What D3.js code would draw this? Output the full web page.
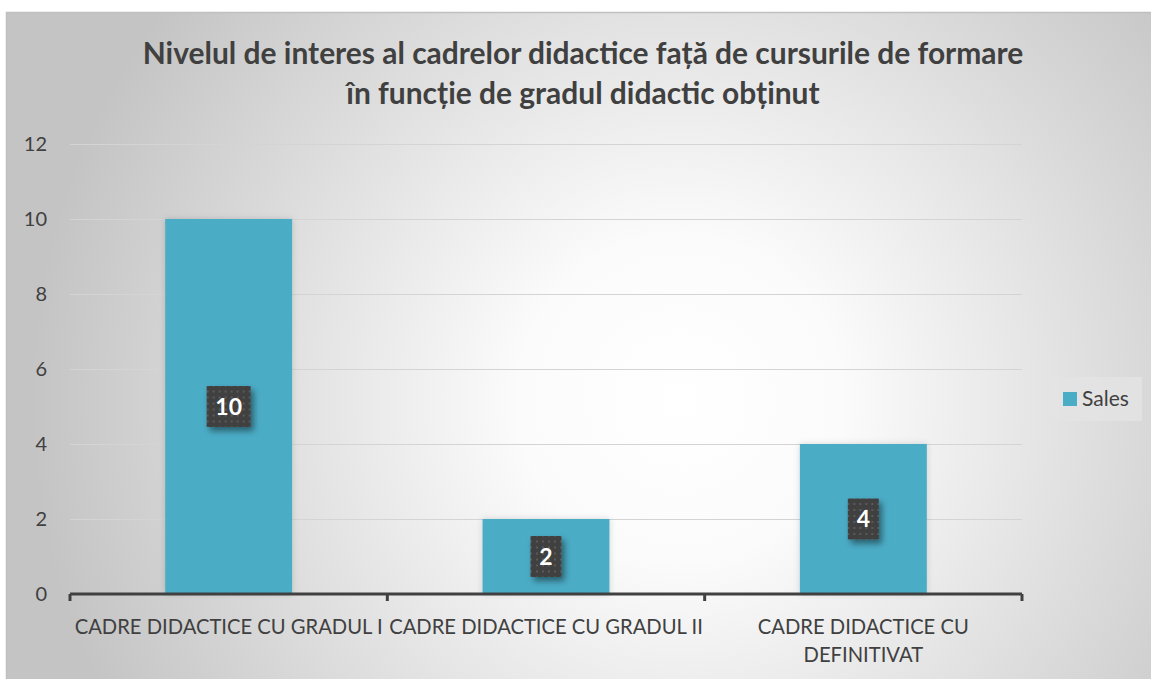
<!DOCTYPE html>
<html>
<head>
<meta charset="utf-8">
<script src="https://cdn.jsdelivr.net/npm/d3@7"></script>
<style>
  body { margin: 0; background: #fff; }
  svg { display: block; font-family: Lato, "Open Sans", sans-serif; }
</style>
</head>
<body>
<script>
var width = 1151,
  height = 679;

var categories = ["CADRE DIDACTICE CU GRADUL I", "CADRE DIDACTICE CU GRADUL II", "CADRE DIDACTICE CU DEFINITIVAT"];
var values = [10, 2, 4];
var yTicks = [0, 2, 4, 6, 8, 10, 12];
var seriesName = "Sales";
var titleLines = ["Nivelul de interes al cadrelor didactice față de cursurile de formare",
  "în funcție de gradul didactic obținut"];

var margin = {left: 70, right: 129, top: 144, bottom: 85};

var svg = d3.select("body").append("svg")
  .attr("width", width)
  .attr("height", height);

var defs = svg.append("defs");

var bg = defs.append("radialGradient")
  .attr("id", "bg")
  .attr("gradientUnits", "userSpaceOnUse")
  .attr("cx", 680).attr("cy", 400).attr("r", 650);
bg.append("stop").attr("offset", "0%").attr("stop-color", "#ffffff");
bg.append("stop").attr("offset", "25%").attr("stop-color", "#fbfbfb");
bg.append("stop").attr("offset", "100%").attr("stop-color", "#c4c4c4");

var dots = defs.append("pattern")
  .attr("id", "dots")
  .attr("patternUnits", "userSpaceOnUse")
  .attr("width", 6).attr("height", 6);
dots.append("rect").attr("width", 6).attr("height", 6).attr("fill", "#404040");
dots.append("rect").attr("x", 2).attr("y", 2).attr("width", 2).attr("height", 2).attr("fill", "#5a5a5a");

var shadow = defs.append("filter").attr("id", "shadow")
  .attr("x", "-30%").attr("y", "-30%").attr("width", "170%").attr("height", "170%");
shadow.append("feDropShadow")
  .attr("dx", 3).attr("dy", 4).attr("stdDeviation", 3)
  .attr("flood-color", "#000").attr("flood-opacity", 0.45);

var glow = defs.append("filter").attr("id", "glow")
  .attr("x", "-20%").attr("y", "-20%").attr("width", "140%").attr("height", "140%");
glow.append("feDropShadow")
  .attr("dx", 0).attr("dy", 0).attr("stdDeviation", 3)
  .attr("flood-color", "#000").attr("flood-opacity", 0.15);

// chart frame
svg.append("rect")
  .attr("x", 6.5).attr("y", 12.5)
  .attr("width", width).attr("height", height)
  .attr("fill", "url(#bg)")
  .attr("stroke", "#c0c0c0")
  .attr("stroke-width", 1.5);

// title
var title = svg.append("g").attr("class", "title");
title.selectAll("text")
  .data(titleLines)
  .enter()
    .append("text")
    .attr("x", 583)
    .attr("y", function(d, i) { return 64 + i * 40; })
    .attr("text-anchor", "middle")
    .attr("font-size", 26)
    .attr("font-weight", "bold")
    .attr("fill", "#404040")
    .text(function(d) { return d; });
// fit first line to the reference width
var t0 = title.select("text").node();
var fs = 26 * 881 / t0.getComputedTextLength();
title.selectAll("text").attr("font-size", fs);

var x = d3.scaleBand()
  .domain(categories)
  .range([margin.left, width - margin.right])
  .paddingInner(0.6)
  .paddingOuter(0.3);

var y = d3.scaleLinear()
  .domain([0, 12])
  .range([height - margin.bottom, margin.top]);

// gridlines
svg.append("g")
  .selectAll("line")
  .data(yTicks.slice(1))
  .enter()
    .append("line")
    .attr("x1", margin.left)
    .attr("x2", width - margin.right)
    .attr("y1", function(d) { return y(d) + 0.5; })
    .attr("y2", function(d) { return y(d) + 0.5; })
    .attr("stroke", "#d4d4d4")
    .attr("stroke-width", 1);

// y labels
svg.append("g")
  .selectAll("text")
  .data(yTicks)
  .enter()
    .append("text")
    .attr("x", 47)
    .attr("y", function(d) { return y(d); })
    .attr("dy", "0.35em")
    .attr("text-anchor", "end")
    .attr("font-size", 20)
    .attr("fill", "#404040")
    .text(function(d) { return d; });

// bars
svg.append("g")
  .selectAll("rect")
  .data(values)
  .enter()
    .append("rect")
    .attr("x", function(d, i) { return x(categories[i]); })
    .attr("width", x.bandwidth())
    .attr("y", function(d) { return y(d); })
    .attr("height", function(d) { return y(0) - y(d); })
    .attr("fill", "#4bacc6")
    .attr("filter", "url(#glow)");

// x axis
var axisY = y(0);
var bounds = [margin.left, width - margin.right];
var tickXs = [bounds[0]].concat(categories.map(function(c) { return x(c) + x.bandwidth() + x.step() * 0.3; }));
tickXs[tickXs.length - 1] = bounds[1];
svg.append("line")
  .attr("x1", bounds[0]).attr("x2", bounds[1])
  .attr("y1", axisY).attr("y2", axisY)
  .attr("stroke", "#404040").attr("stroke-width", 3);
svg.append("g")
  .selectAll("line")
  .data(tickXs)
  .enter()
    .append("line")
    .attr("x1", function(d) { return d; })
    .attr("x2", function(d) { return d; })
    .attr("y1", axisY).attr("y2", axisY + 7)
    .attr("stroke", "#404040").attr("stroke-width", 3);

// x labels (third wraps)
var labelLines = [[categories[0]], [categories[1]], ["CADRE DIDACTICE CU", "DEFINITIVAT"]];
var xl = svg.append("g");
labelLines.forEach(function(lines, i) {
  var cx = x(categories[i]) + x.bandwidth() / 2;
  lines.forEach(function(line, j) {
    xl.append("text")
      .attr("x", cx)
      .attr("y", 634 + j * 28)
      .attr("text-anchor", "middle")
      .attr("font-size", 18.5)
      .attr("fill", "#404040")
      .text(line);
  });
});
var xt = xl.select("text").node();
var xfs = 18.5 * 308 / xt.getComputedTextLength();
xl.selectAll("text").attr("font-size", xfs);

// data labels
var lab = svg.append("g")
  .selectAll("g")
  .data(values)
  .enter()
    .append("g")
    .attr("transform", function(d, i) {
      return "translate(" + (x(categories[i]) + x.bandwidth() / 2) + "," + y(d / 2) + ")";
    });
lab.append("rect")
  .attr("x", function(d) { return -(String(d).length * 6.5 + 9); })
  .attr("width", function(d) { return 2 * (String(d).length * 6.5 + 9); })
  .attr("y", -20.5)
  .attr("height", 41)
  .attr("fill", "url(#dots)")
  .attr("filter", "url(#shadow)");
lab.append("text")
  .attr("text-anchor", "middle")
  .attr("dy", "0.36em")
  .attr("font-size", 23)
  .attr("font-weight", "bold")
  .attr("fill", "#ffffff")
  .text(function(d) { return d; });

// legend
var lg = svg.append("g").attr("transform", "translate(1051,377)");
lg.append("rect")
  .attr("width", 91).attr("height", 44)
  .attr("fill", "#e3e3e3").attr("fill-opacity", 0.8);
lg.append("rect")
  .attr("x", 12).attr("y", 15)
  .attr("width", 14).attr("height", 14)
  .attr("fill", "#4bacc6");
lg.append("text")
  .attr("x", 31).attr("y", 22)
  .attr("dy", "0.35em")
  .attr("font-size", 21)
  .attr("fill", "#404040")
  .text(seriesName);
</script>
</body>
</html>
